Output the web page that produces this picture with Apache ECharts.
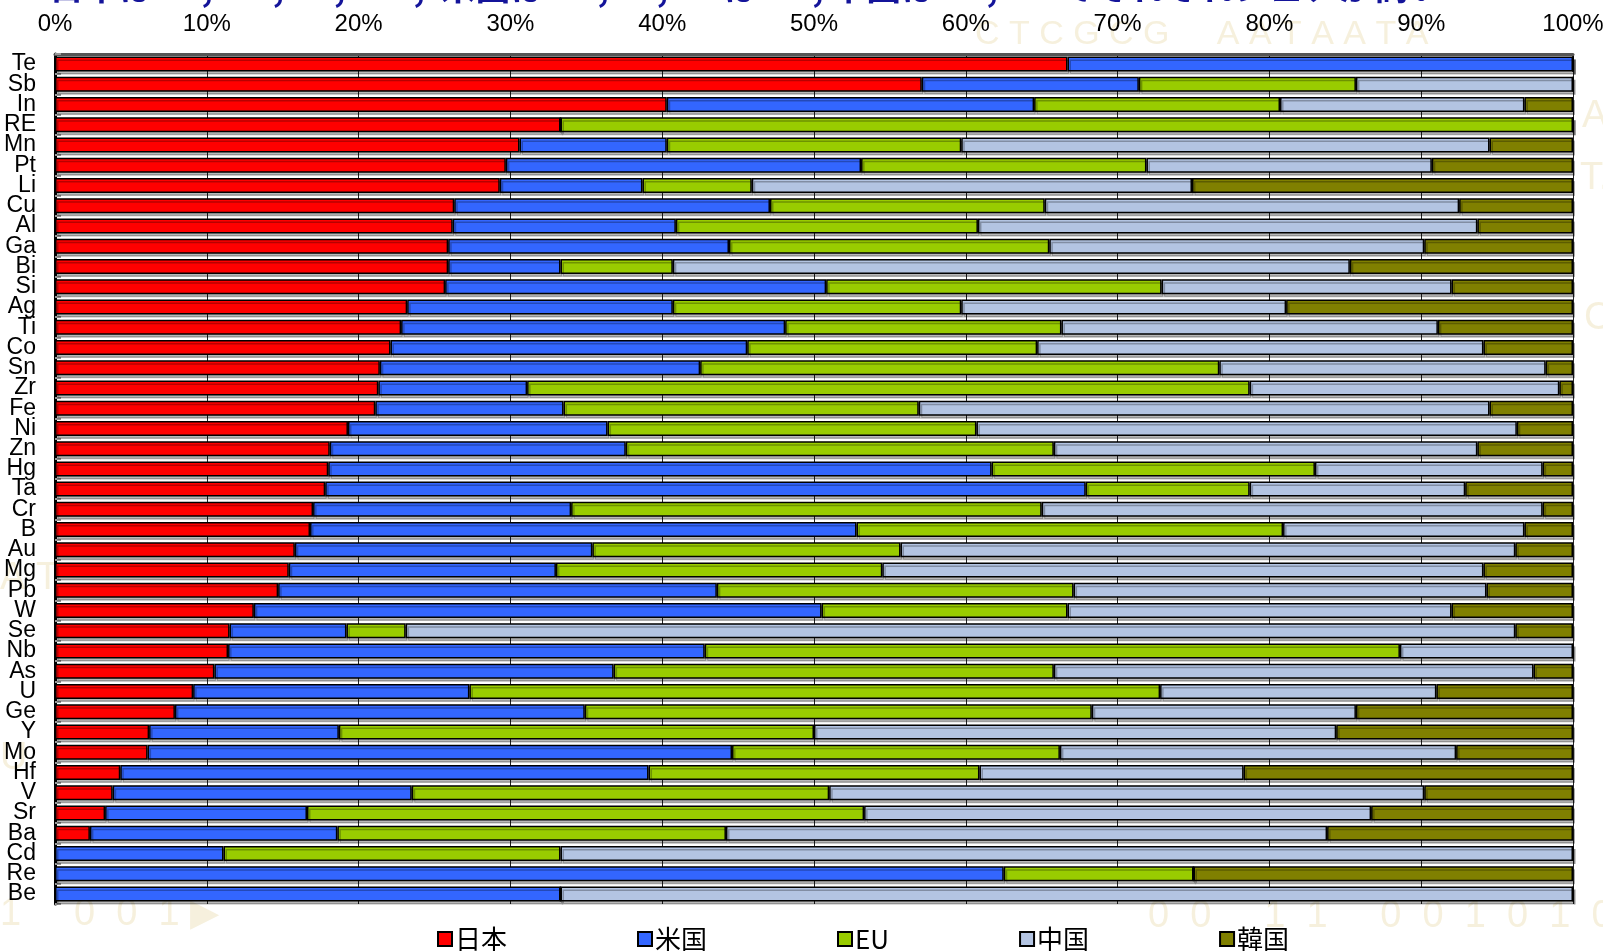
<!DOCTYPE html>
<html>
<head>
<meta charset="utf-8">
<script src="https://cdn.jsdelivr.net/npm/echarts@6/dist/echarts.min.js"></script>
<style>
  html, body { margin: 0; padding: 0; background: #ffffff; }
  #chart { width: 1603px; height: 951px; }
</style>
</head>
<body>
<div id="chart"></div>
<script>
// Elements, top to bottom
const elements = ['Te','Sb','In','RE','Mn','Pt','Li','Cu','Al','Ga','Bi','Si','Ag','Ti','Co','Sn','Zr','Fe','Ni','Zn','Hg','Ta','Cr','B','Au','Mg','Pb','W','Se','Nb','As','U','Ge','Y','Mo','Hf','V','Sr','Ba','Cd','Re','Be'];

// Share (%) per country/region
const japan = [66.7,57.1,40.3,33.3,30.6,29.7,29.3,26.3,26.2,25.9,25.9,25.7,23.2,22.8,22.1,21.4,21.3,21.1,19.3,18.1,18.0,17.8,17.0,16.8,15.8,15.4,14.7,13.1,11.5,11.4,10.5,9.1,7.9,6.2,6.1,4.3,3.8,3.3,2.3,0,0,0];
const usa   = [33.3,14.3,24.2,0,9.7,23.4,9.4,20.8,14.7,18.5,7.4,25.1,17.5,25.3,23.5,21.1,9.8,12.4,17.1,19.5,43.7,50.1,17.0,36.0,19.6,17.6,28.9,37.4,7.7,31.4,26.3,18.2,27.0,12.5,38.5,34.8,19.7,13.3,16.3,11.1,62.5,33.3];
const eu    = [0,14.3,16.2,66.7,19.4,18.8,7.2,18.1,19.9,21.1,7.4,22.1,19.0,18.2,19.1,34.2,47.6,23.4,24.3,28.2,21.3,10.8,31.0,28.1,20.3,21.5,23.5,16.2,3.9,45.8,29.0,45.5,33.4,31.3,21.6,21.8,27.5,36.7,25.6,22.2,12.5,0];
const china = [0,14.3,16.1,0,34.8,18.8,29.0,27.3,32.9,24.7,44.6,19.1,21.4,24.8,29.4,21.5,20.4,37.6,35.6,27.9,15.0,14.2,33.0,15.9,40.5,39.6,27.2,25.3,73.1,11.4,31.6,18.2,17.4,34.4,26.1,17.4,39.2,33.4,39.6,66.7,0,66.7];
const korea = [0,0,3.2,0,5.5,9.3,25.1,7.5,6.3,9.8,14.7,8.0,18.9,8.9,5.9,1.8,0.9,5.5,3.7,6.3,2.0,7.1,2.0,3.2,3.8,5.9,5.7,8.0,3.8,0,2.6,9.0,14.3,15.6,7.7,21.7,9.8,13.3,16.2,0,25.0,0];

const seriesNames = ['日本','米国','EU','中国','韓国'];
const seriesData = [japan, usa, eu, china, korea];
const colors = ['#FF0000','#3366FF','#99CC00','#B3C4E2','#808000'];

const titleText = '日本は Te,  Sb,  In,  Mn,  米国は Re, Ta, EUは RE, 中国は Se, Cd でそれぞれシェアが高い';

const chart = echarts.init(document.getElementById('chart'), null, { renderer: 'canvas' });

// pale backdrop lettering
const faint = 'rgba(228,208,150,0.32)';
const wm = (left, top, text, size) => ({
  type: 'text', z: -1, left: left, top: top,
  style: { text: text, fontSize: size || 38, fontFamily: '"Liberation Sans Narrow", sans-serif', fill: faint }
});

chart.setOption({
  animation: false,
  backgroundColor: '#ffffff',
  color: colors,
  graphic: [
    { type: 'text', z: -1, left: 49, top: -31,
      style: { text: titleText, fontSize: 35, fontWeight: 'bold',
        fontFamily: '"Noto Sans CJK JP", sans-serif', fill: '#14149a' } },
    wm(975, 18, 'C T C G C G     A A T A A T A', 34),
    wm(0, 896, '1     0  0  1 ▶'),
    wm(1148, 898, '0  0     1  1     0  0  1  0  1  0     1'),
    wm(1582, 98, 'A'),
    wm(1580, 160, 'T.'),
    wm(1584, 300, 'C'),
    wm(0, 560, 'A T'),
    wm(0, 740, 'U')
  ],
  grid: { left: 55, right: 30, top: 54, bottom: 47, containLabel: false, outerBoundsMode: 'none' },
  legend: {
    top: 921, left: 432,
    itemGap: 130,
    itemWidth: 14, itemHeight: 14,
    icon: 'rect',
    textStyle: { fontSize: 26, color: '#000', fontFamily: '"Noto Sans CJK JP", sans-serif', padding: [0, 0, 0, -2] },
    data: seriesNames
  },
  xAxis: {
    type: 'value', position: 'top', min: 0, max: 100, interval: 10,
    axisLine: { show: true, lineStyle: { color: '#555', width: 3 } },
    axisTick: { show: false },
    axisLabel: { formatter: '{value}%', fontSize: 24, color: '#000', margin: 18,
      fontFamily: '"Liberation Sans Narrow", "Liberation Sans", sans-serif' },
    splitLine: { show: true, lineStyle: { color: '#222', width: 1 } }
  },
  yAxis: {
    type: 'category', inverse: true, data: elements,
    axisLine: { show: true, lineStyle: { color: '#000', width: 3 } },
    axisTick: { show: true, inside: true, length: 6, lineStyle: { color: '#999', width: 2 } },
    axisLabel: { fontSize: 23, color: '#000', margin: 19, interval: 0, lineHeight: 20,
      fontFamily: '"Liberation Sans", sans-serif' },
    splitLine: { show: false }
  },
  series: seriesNames.map((name, i) => ({
    name: name,
    type: 'bar',
    stack: 'share',
    barWidth: 15,
    data: seriesData[i],
    itemStyle: {
      color: colors[i], borderColor: '#000', borderWidth: 1.5,
      shadowColor: 'rgba(0,0,0,0.28)', shadowOffsetX: 2, shadowOffsetY: 3, shadowBlur: 0
    },
    emphasis: { disabled: true }
  }))
});
</script>
</body>
</html>
